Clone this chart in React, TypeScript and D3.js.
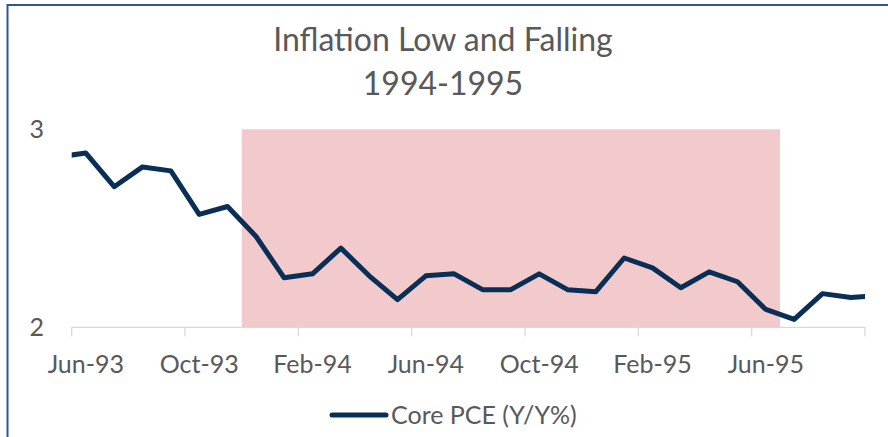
import React from "react";
import * as d3 from "d3";

const months: string[] = [
  "May-93", "Jun-93", "Jul-93", "Aug-93", "Sep-93", "Oct-93", "Nov-93", "Dec-93",
  "Jan-94", "Feb-94", "Mar-94", "Apr-94", "May-94", "Jun-94", "Jul-94", "Aug-94",
  "Sep-94", "Oct-94", "Nov-94", "Dec-94", "Jan-95", "Feb-95", "Mar-95", "Apr-95",
  "May-95", "Jun-95", "Jul-95", "Aug-95", "Sep-95", "Oct-95",
];
const corePce: number[] = [
  2.86, 2.88, 2.71, 2.81, 2.79, 2.57, 2.61, 2.46,
  2.25, 2.27, 2.40, 2.26, 2.14, 2.26, 2.27, 2.19,
  2.19, 2.27, 2.19, 2.18, 2.35, 2.30, 2.20, 2.28,
  2.23, 2.09, 2.04, 2.17, 2.15, 2.16,
];
// visible window of the category axis
const firstVisible = "Jun-93";
const lastVisible = "Sep-95";
const tickLabels: string[] = ["Jun-93", "Oct-93", "Feb-94", "Jun-94", "Oct-94", "Feb-95", "Jun-95"];
const shadeStart = "Dec-93";
const shadeEnd = "Jun-95";
const shadeValue = 3;
const yTicks: number[] = [2, 3];
const title1 = "Inflation Low and Falling";
const title2 = "1994-1995";
const legendLabel = "Core PCE (Y/Y%)";

const W = 888;
const H = 437;
const FONT = "Lato, 'Open Sans', sans-serif";
const TEXT = "#595959";
const NAVY = "#0A2F57";
const PINK = "#F2CACB";

export default function App() {
  const i0 = months.indexOf(firstVisible);
  const i1 = months.indexOf(lastVisible);
  const x = d3.scaleLinear().domain([i0 - 0.5, i1 + 0.5]).range([71.7, 865]);
  const y = d3.scaleLinear().domain([2, 3]).range([327.3, 129.3]);
  const line = d3
    .line<number>()
    .x((_, i) => x(i))
    .y((d) => y(d));
  const tickPositions: number[] = [];
  for (let i = i0; i <= i1 + 1; i += 4) tickPositions.push(i - 0.5);
  const s0 = months.indexOf(shadeStart);
  const s1 = months.indexOf(shadeEnd);

  return (
    <div style={{ position: "fixed", left: 0, top: 0, width: W, height: H, background: "#fff" }}>
      <svg width={W} height={H} style={{ display: "block" }}>
        <defs>
          <clipPath id="plotClip">
            <rect x={x(i0 - 0.5)} y={0} width={x(i1 + 0.5) - x(i0 - 0.5)} height={H} />
          </clipPath>
        </defs>
        {/* frame */}
        <line x1={7.5} x2={W} y1={5} y2={5} stroke="#2F5597" strokeWidth={2} />
        <line x1={7.5} x2={7.5} y1={4} y2={H} stroke="#2F5597" strokeWidth={2} />
        {/* title */}
        <text x={443} y={51} textAnchor="middle" fill={TEXT} fontFamily={FONT} fontSize={32}>
          {title1}
        </text>
        <text x={443} y={95} textAnchor="middle" fill={TEXT} fontFamily={FONT} fontSize={32}>
          {title2}
        </text>
        {/* shaded period */}
        <rect
          x={x(s0 - 0.5)}
          y={y(shadeValue)}
          width={x(s1 + 0.5) - x(s0 - 0.5)}
          height={y(2) - y(shadeValue)}
          fill={PINK}
        />
        {/* x axis */}
        <line x1={x(i0 - 0.5)} x2={x(i1 + 0.5)} y1={y(2)} y2={y(2)} stroke="#D9D9D9" strokeWidth={1.3} />
        {tickPositions.map((t) => (
          <line key={t} x1={x(t)} x2={x(t)} y1={y(2)} y2={y(2) + 9} stroke="#D9D9D9" strokeWidth={1.3} />
        ))}
        {tickLabels.map((lab) => (
          <text
            key={lab}
            x={x(months.indexOf(lab))}
            y={373}
            textAnchor="middle"
            fill={TEXT}
            fontFamily={FONT}
            fontSize={25}
          >
            {lab}
          </text>
        ))}
        {/* y labels */}
        {yTicks.map((v) => (
          <text key={v} x={44} y={y(v) + 9} textAnchor="end" fill={TEXT} fontFamily={FONT} fontSize={25}>
            {v}
          </text>
        ))}
        {/* series */}
        <g clipPath="url(#plotClip)">
          <path d={line(corePce) || ""} fill="none" stroke={NAVY} strokeWidth={5} strokeLinejoin="round" />
        </g>
        {/* legend */}
        <line x1={332} x2={386} y1={415} y2={415} stroke={NAVY} strokeWidth={5} strokeLinecap="round" />
        <text x={391} y={424} fill={TEXT} fontFamily={FONT} fontSize={25}>
          {legendLabel}
        </text>
      </svg>
    </div>
  );
}
